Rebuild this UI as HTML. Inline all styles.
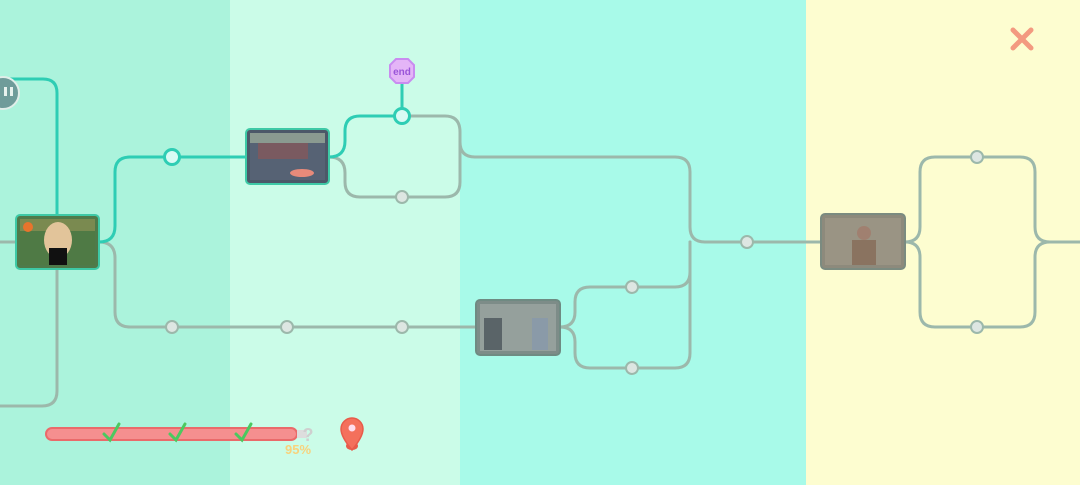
<!DOCTYPE html>
<html><head><meta charset="utf-8"><style>
html,body{margin:0;padding:0;width:1080px;height:485px;overflow:hidden}
svg{display:block}
</style></head><body>
<svg width="1080" height="485" xmlns="http://www.w3.org/2000/svg" font-family="Liberation Sans, sans-serif">
<rect x="0" y="0" width="230" height="485" fill="#abf3dc"/>
<rect x="230" y="0" width="230" height="485" fill="#cbfce8"/>
<rect x="460" y="0" width="346" height="485" fill="#a8fae9"/>
<rect x="806" y="0" width="274" height="485" fill="#fdfdd0"/>
<g fill="none" stroke="#9cb8ab" stroke-width="3" stroke-linecap="round">
<path d="M0 242 H16"/>
<path d="M57 269 V391 Q57 406 42 406 H0"/>
<path d="M99 242 Q115 242 115 258 V312 Q115 327 130 327 H476"/>
<path d="M329 157 Q345 157 345 173 V182 Q345 197 360 197 H445 Q460 197 460 182 V132 Q460 116 445 116 H402"/>
<path d="M460 142 Q460 157 475 157 H675 Q690 157 690 172 V227 Q690 242 705 242 H821"/>
<path d="M560 327 Q575 327 575 312 V302 Q575 287 590 287 H675 Q690 287 690 272 V242"/>
<path d="M560 327 Q575 327 575 342 V353 Q575 368 590 368 H675 Q690 368 690 353 V242"/>
<path d="M905 242 Q920 242 920 227 V172 Q920 157 935 157 H1020 Q1035 157 1035 172 V227 Q1035 242 1050 242 H1080"/>
<path d="M905 242 Q920 242 920 257 V312 Q920 327 935 327 H1020 Q1035 327 1035 312 V257 Q1035 242 1050 242"/>
</g>
<g fill="none" stroke="#2ecdb4" stroke-width="3" stroke-linecap="round">
<path d="M10 79 H43 Q57 79 57 93 V215"/>
<path d="M99 242 Q115 242 115 226 V172 Q115 157 130 157 H246"/>
<path d="M329 157 Q345 157 345 141 V131 Q345 116 360 116 H402 V80"/>
</g>
<g fill="#dde6e2" stroke="#9cb8ab" stroke-width="2">
<circle cx="172" cy="327" r="6"/><circle cx="287" cy="327" r="6"/><circle cx="402" cy="327" r="6"/>
<circle cx="402" cy="197" r="6"/><circle cx="632" cy="287" r="6"/><circle cx="632" cy="368" r="6"/>
<circle cx="747" cy="242" r="6"/><circle cx="977" cy="157" r="6"/><circle cx="977" cy="327" r="6"/>
</g>
<g fill="#d8fbf4" stroke="#2ecdb4" stroke-width="3">
<circle cx="172" cy="157" r="7.5"/><circle cx="402" cy="116" r="7.5"/>
</g>
<circle cx="3" cy="93" r="16" fill="#6f9c9a" stroke="#e0eee9" stroke-width="2"/>
<rect x="4" y="87" width="3" height="9" fill="#e8f2ee"/><rect x="10" y="87" width="3" height="9" fill="#e8f2ee"/>
<polygon points="396,59 408,59 414,65 414,77 408,83 396,83 390,77 390,65" fill="#e4b5f7" stroke="#c98cf0" stroke-width="2"/>
<text x="402" y="75" font-size="10" fill="#9a55d8" text-anchor="middle" font-weight="bold">end</text>
<rect x="16" y="215" width="83" height="54" rx="4" fill="#4f7a4a" stroke="#3ec9a6" stroke-width="2"/>
<rect x="20" y="219" width="75" height="46" fill="#4f7a45"/>
<rect x="20" y="219" width="75" height="12" fill="#7a8a50"/>
<ellipse cx="58" cy="240" rx="14" ry="18" fill="#e2c49a"/><rect x="49" y="248" width="18" height="17" fill="#111"/>
<circle cx="28" cy="227" r="5" fill="#e8742c"/>
<rect x="246" y="129" width="83" height="55" rx="4" fill="#4c5868" stroke="#3ec9a6" stroke-width="2"/>
<rect x="250" y="133" width="75" height="47" fill="#566274"/>
<rect x="250" y="133" width="75" height="10" fill="#8a9a90"/>
<rect x="258" y="143" width="50" height="16" fill="#7a5a60"/>
<ellipse cx="302" cy="173" rx="12" ry="4" fill="#e88a7a"/>
<rect x="476" y="300" width="84" height="55" rx="4" fill="#7d8c88" stroke="#6f8a82" stroke-width="2"/>
<rect x="480" y="304" width="76" height="47" fill="#95a09c"/>
<rect x="484" y="318" width="18" height="32" fill="#5a6468"/><rect x="532" y="318" width="16" height="32" fill="#8a9aa8"/>
<rect x="821" y="214" width="84" height="55" rx="4" fill="#8d8a7c" stroke="#7b8b80" stroke-width="2"/>
<rect x="825" y="218" width="76" height="47" fill="#9a9484"/>
<rect x="852" y="240" width="24" height="25" fill="#8a7360"/><circle cx="864" cy="233" r="7" fill="#a08070"/>
<g stroke="#f39a80" stroke-width="5" stroke-linecap="round"><line x1="1013" y1="30" x2="1031" y2="48"/><line x1="1031" y1="30" x2="1013" y2="48"/></g>
<rect x="46" y="428" width="251" height="12" rx="6" fill="#f58f8f" stroke="#ea6a6a" stroke-width="2"/>
<rect x="297" y="430" width="10" height="8" fill="#ddd"/>
<text x="308" y="441" font-size="18" font-weight="bold" fill="#cfcfcf" text-anchor="middle">?</text>
<g fill="none" stroke="#4bc95f" stroke-width="3" stroke-linecap="round">
<path d="M104 434 L110 440 L119 424"/><path d="M170 434 L176 440 L185 424"/><path d="M236 434 L242 440 L251 424"/>
</g>
<text x="298" y="454" font-size="13" font-weight="bold" fill="#f8d27c" text-anchor="middle">95%</text>
<ellipse cx="352" cy="446" rx="6" ry="4" fill="#e85b4a"/>
<path d="M352 450 C342 438 341 432 341 429 A11 11 0 0 1 363 429 C363 432 362 438 352 450 Z" fill="#f4705c" stroke="#e85b4a" stroke-width="1.5"/>
<circle cx="352" cy="428" r="3.5" fill="#fde"/>
</svg>
</body></html>
